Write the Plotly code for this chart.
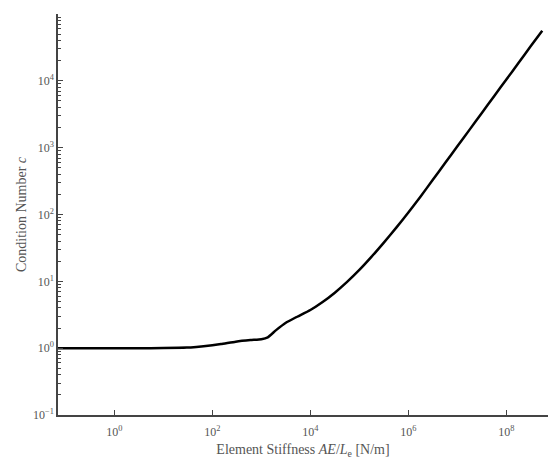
import plotly.graph_objects as go

stiffness = [0.07, 0.3, 1, 3, 10, 30, 100, 150, 300, 600, 1000, 1350, 2000,
             3160, 5000, 1e4, 1.78e4, 3.16e4, 5.62e4, 1e5, 1.78e5, 3.16e5, 5.62e5,
             1e6, 1.78e6, 3.16e6, 5.62e6, 1e7, 1.78e7, 3.16e7, 5.62e7, 1e8,
             1.78e8, 3.16e8, 5.4e8]
condition = [1.0, 1.0, 1.0, 1.0, 1.003, 1.02, 1.11, 1.15, 1.25, 1.32, 1.36, 1.45, 1.86,
             2.4, 2.88, 3.72, 4.9, 6.76, 9.8, 14.8, 23.4, 38, 63,
             107, 186, 331, 589, 1047, 1862, 3311, 5888, 1.047e4,
             1.862e4, 3.311e4, 5.62e4]

x_ticks = [1, 1e2, 1e4, 1e6, 1e8]
x_ticktext = ["10<sup>0</sup>", "10<sup>2</sup>", "10<sup>4</sup>", "10<sup>6</sup>", "10<sup>8</sup>"]
y_ticks = [0.1, 1, 10, 100, 1e3, 1e4]
y_ticktext = ["10<sup>−1</sup>", "10<sup>0</sup>", "10<sup>1</sup>", "10<sup>2</sup>", "10<sup>3</sup>", "10<sup>4</sup>"]

font_family = "Liberation Serif, DejaVu Serif, serif"
axis_col = "#444444"
text_col = "#555555"

fig = go.Figure()
fig.add_trace(go.Scatter(x=stiffness, y=condition, mode="lines",
                         line=dict(color="black", width=2.5, shape="spline", smoothing=0.5),
                         showlegend=False, hoverinfo="skip"))

fig.update_layout(
    width=553, height=459,
    margin=dict(l=58, r=5, t=14, b=44),
    paper_bgcolor="white", plot_bgcolor="white",
    font=dict(family=font_family, color=text_col, size=12),
    xaxis=dict(type="log", range=[-1.15, 8.85], automargin=False,
               tickvals=x_ticks, ticktext=x_ticktext,
               tickfont=dict(color=text_col, size=12),
               ticks="inside", ticklen=5, tickcolor=axis_col,
               ticklabelstandoff=5,
               showline=True, linecolor=axis_col, linewidth=1.5,
               showgrid=False, zeroline=False, mirror=False,
               title=dict(text="Element Stiffness <i>AE</i>/<i>L</i><sub>e</sub> [N/m]",
                          font=dict(size=14, color=text_col), standoff=10)),
    yaxis=dict(type="log", range=[-1, 5], automargin=False,
               tickvals=y_ticks, ticktext=y_ticktext,
               tickfont=dict(color=text_col, size=12),
               ticks="inside", ticklen=5, tickcolor=axis_col,
               showline=True, linecolor=axis_col, linewidth=1.5,
               showgrid=False, zeroline=False, mirror=False,
               minor=dict(ticks="inside", ticklen=3, tickcolor=axis_col, dtick="D1", showgrid=False),
               title=dict(text="Condition Number <i>c</i>",
                          font=dict(size=14, color=text_col), standoff=3)),
)

fig.write_html("out.html")
